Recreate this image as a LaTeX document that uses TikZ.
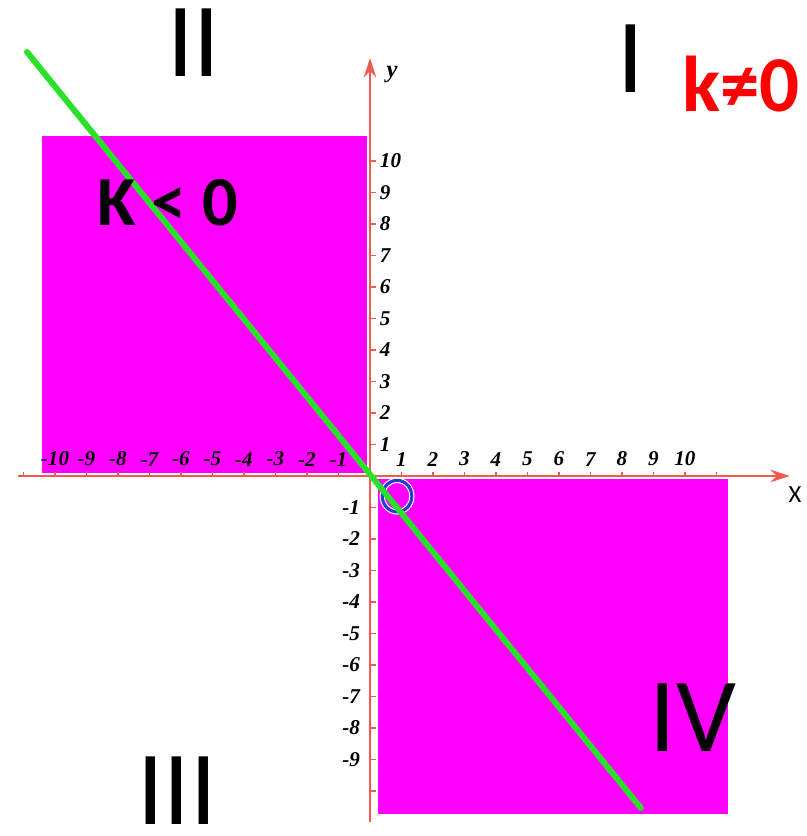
\documentclass[tikz,border=0pt]{standalone}
\usepackage{fontspec}
\setmainfont{Carlito}
\newfontfamily\tickfont{Liberation Serif}
\usetikzlibrary{arrows.meta,positioning}
\definecolor{axisred}{RGB}{240,90,80}
\definecolor{regionpink}{RGB}{255,0,255}
\definecolor{linegreen}{RGB}{40,225,40}
\definecolor{ringblue}{RGB}{40,60,210}

\begin{document}
\begin{tikzpicture}[
    x=0.63cm, y=0.63cm, % one unit of the axes
    region/.style={fill=regionpink, draw=none},
    axis/.style={-{Stealth[length=11pt, width=7pt]}, axisred, line width=1.6pt},
    tick/.style={axisred, line width=1pt},
    ticklabel/.style={font=\tickfont\bfseries\itshape\fontsize{12}{12}\selectfont, inner sep=1pt},
    axislabel/.style={font=\fontsize{14}{14}\selectfont, inner sep=0pt},
    graph/.style={linegreen, line width=3.4pt, line cap=round},
    ring/.style={ringblue, line width=1.8pt},
    quadrant/.style={font=\fontsize{60}{60}\selectfont, inner sep=0pt},
    slope/.style={font=\bfseries\fontsize{40}{40}\selectfont, inner sep=0pt}
]
    \useasboundingbox (-11.746,-11.429) rectangle (13.873,15.111);

    % Regions
    \fill[region] (-10.41,0.08) rectangle (-0.1,10.79);
    \fill[region] (0.25,-0.1) rectangle (11.37,-10.73);

    % Axes
    \coordinate (O) at (0,0);
    \coordinate (xstart) at (-11.17,0);
    \coordinate (xend) at (13.33,0);
    \coordinate (ystart) at (0,-10.98);
    \coordinate (yend) at (0,13.27);
    \draw[axis] (xstart) -- (xend);
    \draw[axis] (ystart) -- (yend);
    \foreach \i in {-11,...,11}
        \draw[tick] (\i,0) -- (\i,0.12);
    \foreach \j in {-10,...,10}
        \draw[tick] (0,\j) -- (0.18,\j);

    % Tick labels
    \foreach \i in {1,...,10} {
        \node[ticklabel, anchor=south] (xp\i) at (\i,0.25) {\i};
        \node[ticklabel, anchor=south] (xn\i) at (-\i,0.25) {-\i};
        \node[ticklabel, anchor=west] (yp\i) at (0.25,\i) {\i};
    }
    \foreach \j in {1,...,9}
        \node[ticklabel, anchor=east] (yn\j) at (-0.25,-\j) {-\j};
    \node[axislabel, font=\tickfont\bfseries\itshape\fontsize{14}{14}\selectfont] (ylabel) at (0.70,12.73) {y};
    \node[axislabel] (xlabel) at (13.49,-0.60) {X};

    % Graph of y = kx
    \draw[white, line width=3pt] (0.86,-0.64) ellipse [x radius=0.47, y radius=0.5];
    \draw[ring] (0.86,-0.64) ellipse [x radius=0.47, y radius=0.5];
    \coordinate (lstart) at (-10.89,13.46);
    \coordinate (lend) at (8.60,-10.54);
    \draw[graph] (lstart) -- (lend);

    % Quadrants
    \node[quadrant, anchor=base] (q2) at (-5.59,12.67) {II};
    \node[quadrant, anchor=base] (q1) at (8.29,12.19) {I};
    \node[quadrant, anchor=base] (q3) at (-6.13,-11.05) {III};
    \node[quadrant, anchor=base] (q4) at (10.25,-8.76) {IV};
    \node[slope, anchor=base west] (kneg) at (-8.67,7.94) {K < 0};
    \node[slope, anchor=base west, text=red, font=\bfseries\fontsize{45}{45}\selectfont] (knz) at (9.90,11.56) {k≠0};
\end{tikzpicture}
\end{document}
